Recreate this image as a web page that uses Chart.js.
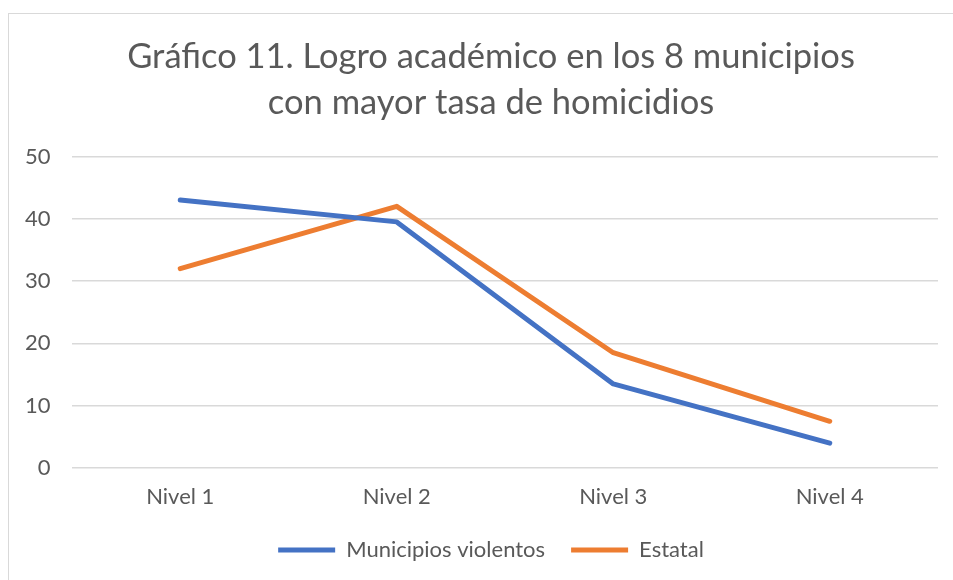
<!DOCTYPE html>
<html>
<head>
<meta charset="utf-8">
<script src="https://cdn.jsdelivr.net/npm/chart.js@4"></script>
<style>
	body { margin: 0; background: #fff; }
	#marco { position: absolute; left: 8px; top: 13px; width: 960px; height: 600px; border: 1px solid #d9d9d9; }
	#wrap { position: absolute; left: 0; top: 0; width: 953px; height: 580px; }
</style>
</head>
<body>
<div id="marco"></div>
<div id="wrap"><canvas id="chart"></canvas></div>
<script>
// datos del gráfico
var niveles = ['Nivel 1', 'Nivel 2', 'Nivel 3', 'Nivel 4'];
var municipiosViolentos = [43, 39.5, 13.5, 4];
var estatal = [32, 42, 18.5, 7.5];
var titulo = ['Gráfico 11. Logro académico en los 8 municipios', 'con mayor tasa de homicidios'];

var gris = '#595959';
var fuente = "Lato, 'Open Sans', sans-serif";

var chart = new Chart(document.getElementById('chart'), {
	type: 'line',
	data: {
		labels: niveles,
		datasets: [{
			label: 'Municipios violentos',
			data: municipiosViolentos,
			borderColor: '#4472c4',
			backgroundColor: '#4472c4',
		}, {
			label: 'Estatal',
			data: estatal,
			borderColor: '#ed7d31',
			backgroundColor: '#ed7d31',
		}]
	},
	options: {
		responsive: true,
		maintainAspectRatio: false,
		animation: false,
		elements: {
			line: { borderWidth: 5, borderCapStyle: 'round', borderJoinStyle: 'round', tension: 0 },
			point: { radius: 0, hoverRadius: 0 }
		},
		// padding izquierdo grande para centrar título y leyenda como en el original
		layout: { padding: { left: 44, right: 15, top: 34, bottom: 9 } },
		plugins: {
			title: {
				display: true,
				text: titulo,
				color: gris,
				font: { family: fuente, size: 34.5, weight: 'normal', lineHeight: 1.34 },
				padding: { top: 0, bottom: 30 }
			},
			legend: {
				position: 'bottom',
				labels: {
					color: gris,
					font: { family: fuente, size: 22 },
					boxWidth: 57,
					boxHeight: 5,
					useBorderRadius: true,
					borderRadius: 2.5,
					padding: 26,
					generateLabels: (c) => c.data.datasets.map((d, i) => ({
						text: d.label,
						fillStyle: d.borderColor,
						strokeStyle: d.borderColor,
						lineWidth: 0,
						fontColor: gris,
						datasetIndex: i
					}))
				}
			},
			tooltip: { enabled: false }
		},
		scales: {
			x: {
				offset: true,
				grid: { display: false },
				border: { display: false },
				ticks: { color: gris, font: { family: fuente, size: 22 }, padding: 8 },
				afterFit: (s) => { s.height = 45; }
			},
			y: {
				min: 0,
				max: 50,
				// mirror + crossAlign far: etiquetas alineadas a la derecha fuera del eje sin recorte
				ticks: { stepSize: 10, color: gris, font: { family: fuente, size: 22 }, mirror: true, crossAlign: 'far', padding: -47 },
				grid: { color: '#d9d9d9', lineWidth: 1.5, drawTicks: false },
				border: { display: false },
				afterFit: (s) => { s.width = 28; }
			}
		}
	}
});
</script>
</body>
</html>
